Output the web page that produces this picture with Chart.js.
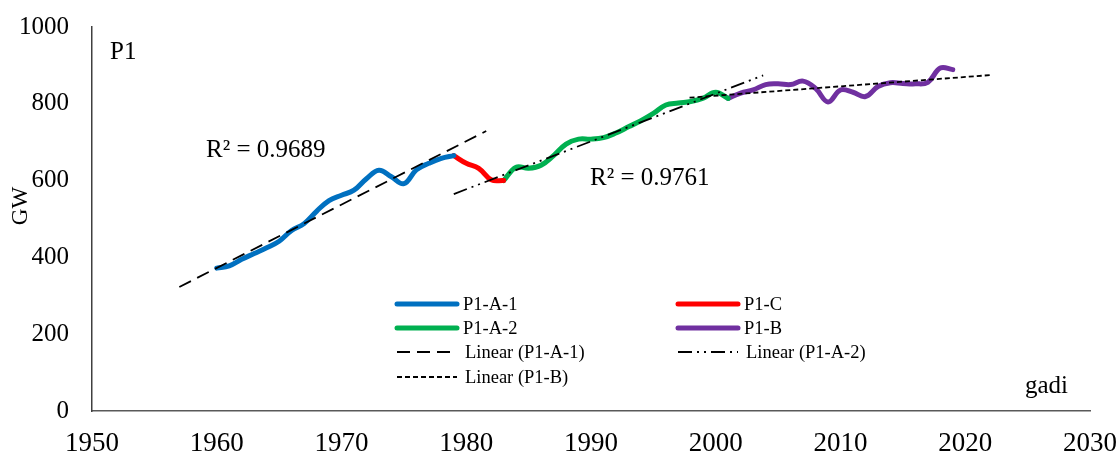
<!DOCTYPE html>
<html>
<head>
<meta charset="utf-8">
<script src="https://cdn.jsdelivr.net/npm/chart.js@4.4.0/dist/chart.umd.min.js"></script>
<style>
  html, body { margin: 0; padding: 0; background: #fff; }
  #wrap { width: 1119px; height: 454px; }
</style>
</head>
<body>
<div id="wrap"><canvas id="gwChart" width="1119" height="454"></canvas></div>
<script>
// P1 series (GW per year)
const yearsA1 = [1960, 1961, 1962, 1963, 1964, 1965, 1966, 1967, 1968, 1969, 1970, 1971, 1972, 1973, 1974, 1975, 1976, 1977, 1978, 1979];
const valuesA1 = [372, 378, 395, 410, 425, 442, 470, 488, 520, 548, 562, 575, 605, 627, 610, 592, 628, 645, 658, 665];

const yearsC = [1979, 1980, 1981, 1982, 1983];
const valuesC = [665, 645, 632, 602, 600];

const yearsA2 = [1983, 1984, 1985, 1986, 1987, 1988, 1989, 1990, 1991, 1992, 1993, 1994, 1995, 1996, 1997, 1998, 1999, 2000, 2001];
const valuesA2 = [600, 635, 632, 640, 665, 695, 708, 708, 712, 724, 740, 756, 775, 797, 802, 806, 815, 830, 814];

const yearsB = [2001, 2002, 2003, 2004, 2005, 2006, 2007, 2008, 2009, 2010, 2011, 2012, 2013, 2014, 2015, 2016, 2017, 2018, 2019];
const valuesB = [814, 828, 836, 850, 852, 850, 859, 840, 805, 836, 830, 819, 845, 855, 853, 852, 856, 893, 889];

// trend line end points (Excel linear trendlines with forecast)
const trendA1Years = [1957, 1981.6];
const trendA1Values = [323, 729];
const trendA2Years = [1979, 2003.8];
const trendA2Values = [565, 874];
const trendBYears = [1997.9, 2022.1];
const trendBValues = [816, 875];

const xTicks = [1950, 1960, 1970, 1980, 1990, 2000, 2010, 2020, 2030];
const yTicks = [0, 200, 400, 600, 800, 1000];

function toPoints(xs, ys) {
  return xs.map((x, i) => ({ x: x, y: ys[i] }));
}

const serif = '"Liberation Serif", "Times New Roman", serif';

function dataLine(label, xs, ys, color) {
  return {
    label: label,
    data: toPoints(xs, ys),
    borderColor: color,
    backgroundColor: color,
    borderWidth: 5,
    pointRadius: 0,
    tension: 0.4,
    borderCapStyle: 'round',
    order: 2
  };
}

function trendLine(label, xs, ys, dash) {
  return {
    label: label,
    data: toPoints(xs, ys),
    borderColor: '#000000',
    borderWidth: 1.8,
    borderDash: dash,
    pointRadius: 0,
    tension: 0,
    order: 1
  };
}

const datasets = [
  dataLine('P1-A-1', yearsA1, valuesA1, '#0070C0'),
  dataLine('P1-C', yearsC, valuesC, '#FF0000'),
  dataLine('P1-A-2', yearsA2, valuesA2, '#00B050'),
  dataLine('P1-B', yearsB, valuesB, '#7030A0'),
  trendLine('Linear (P1-A-1)', trendA1Years, trendA1Values, [13, 7]),
  trendLine('Linear (P1-A-2)', trendA2Years, trendA2Values, [14, 5, 2, 5, 2, 5]),
  trendLine('Linear (P1-B)', trendBYears, trendBValues, [5, 3])
];

// legend layout: [dataset index, column, row]
const legendSlots = [[0, 0, 0], [1, 1, 0], [2, 0, 1], [3, 1, 1], [4, 0, 2], [5, 1, 2], [6, 0, 3]];

const textPlugin = {
  id: 'textPlugin',
  afterDraw(chart) {
    const ctx = chart.ctx;
    ctx.save();
    ctx.fillStyle = '#000';
    ctx.textBaseline = 'alphabetic';
    ctx.textAlign = 'left';

    ctx.font = '25px ' + serif;
    ctx.fillText('P1', 110, 59);
    ctx.fillText('R\u00B2 = 0.9689', 206, 157);
    ctx.fillText('R\u00B2 = 0.9761', 590, 185);
    ctx.fillText('gadi', 1025, 393);

    // y axis title
    ctx.save();
    ctx.translate(27, 206);
    ctx.rotate(-Math.PI / 2);
    ctx.textAlign = 'center';
    ctx.font = '23px ' + serif;
    ctx.fillText('GW', 0, 0);
    ctx.restore();

    // legend
    const colX = [397, 678];
    const rowY = [304, 328, 352, 377];
    ctx.font = '18.5px ' + serif;
    ctx.textBaseline = 'middle';
    legendSlots.forEach(([di, c, r]) => {
      const ds = chart.data.datasets[di];
      const x0 = colX[c], y0 = rowY[r];
      ctx.save();
      ctx.strokeStyle = ds.borderColor;
      ctx.lineWidth = ds.borderWidth;
      ctx.lineCap = ds.borderDash ? 'butt' : 'round';
      ctx.setLineDash(ds.borderDash || []);
      ctx.beginPath();
      ctx.moveTo(x0, y0);
      ctx.lineTo(x0 + 60, y0);
      ctx.stroke();
      ctx.restore();
      ctx.fillText(ds.label, x0 + (ds.borderDash ? 68 : 66), y0 + 1);
    });
    ctx.restore();
  }
};

new Chart(document.getElementById('gwChart'), {
  type: 'line',
  data: { datasets: datasets },
  plugins: [textPlugin],
  options: {
    responsive: false,
    animation: false,
    devicePixelRatio: 1,
    layout: { padding: { top: 27, right: 29, left: 0, bottom: 0 } },
    plugins: {
      legend: { display: false },
      tooltip: { enabled: false }
    },
    scales: {
      x: {
        type: 'linear',
        min: 1950,
        max: 2030,
        afterBuildTicks: s => { s.ticks = xTicks.map(v => ({ value: v })); },
        afterFit: s => {
          s.height = 43;
          s.paddingLeft = 0;
          s.paddingRight = 0;
        },
        ticks: {
          color: '#000',
          font: { family: serif, size: 27 },
          padding: 17,
          maxRotation: 0,
          callback: v => String(v)
        },
        grid: { display: false, drawTicks: false },
        border: { color: '#595959', width: 1.5 }
      },
      y: {
        min: 0,
        max: 1000,
        afterBuildTicks: s => { s.ticks = yTicks.map(v => ({ value: v })); },
        afterFit: s => {
          s.width = 92;
          s.paddingTop = 0;
          s.paddingBottom = 0;
        },
        ticks: {
          color: '#000',
          font: { family: serif, size: 25 },
          padding: 23,
          callback: v => String(v)
        },
        grid: { display: false, drawTicks: false },
        border: { color: '#404040', width: 1.5 }
      }
    }
  }
});
</script>
</body>
</html>
